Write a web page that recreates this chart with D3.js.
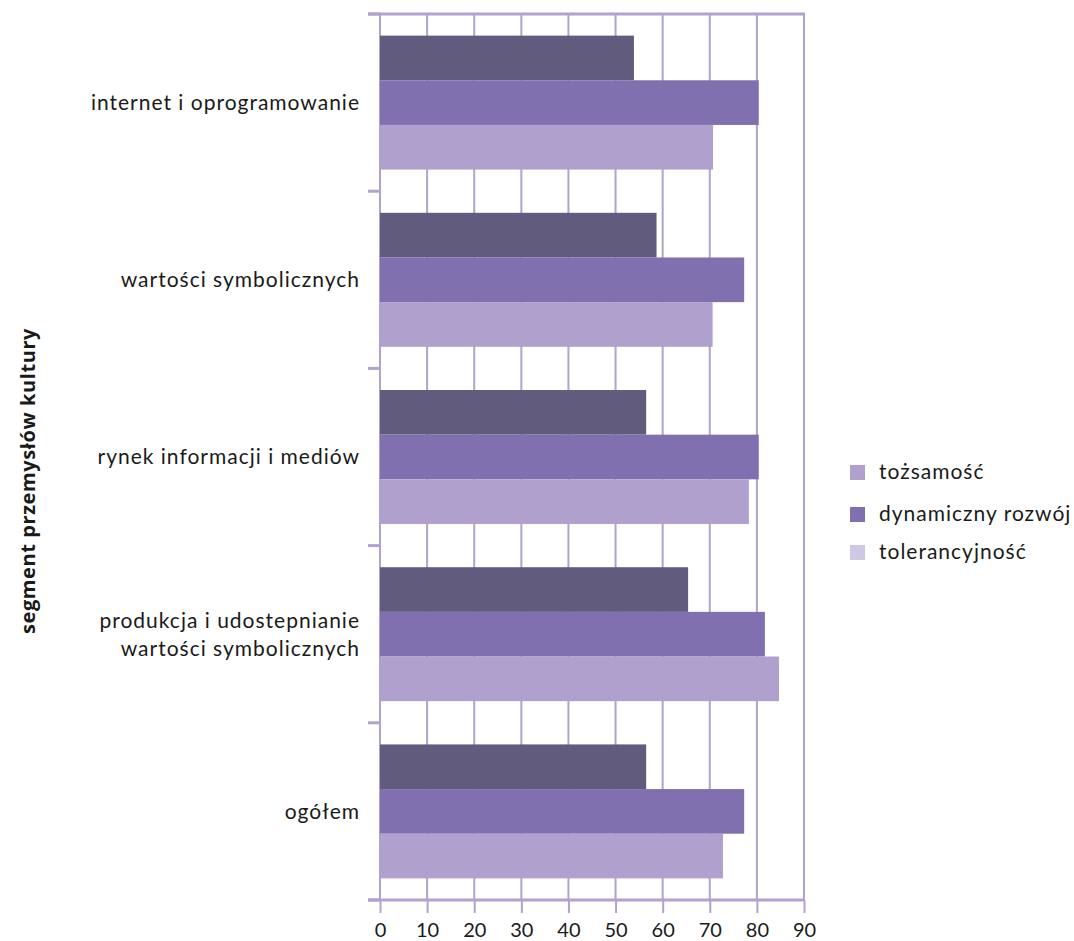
<!DOCTYPE html>
<html>
<head>
<meta charset="utf-8">
<script src="https://cdn.jsdelivr.net/npm/d3@7"></script>
<style>
  html, body { margin: 0; padding: 0; background: #fff; }
  svg text { font-family: Lato, "Open Sans", sans-serif; fill: #1a1a1a; }
</style>
</head>
<body>
<svg id="chart" width="1074" height="941"></svg>
<script>
// Segments of the culture industries (top to bottom)
const categories = [
  ["internet i oprogramowanie"],
  ["wartości symbolicznych"],
  ["rynek informacji i mediów"],
  ["produkcja i udostepnianie", "wartości symbolicznych"],
  ["ogółem"]
];
const categoryKeys = categories.map(c => c.join(" "));

// Series in bar order within each group (top to bottom)
const seriesKeys = ["tolerancyjność", "dynamiczny rozwój", "tożsamość"];
const tolerancyjnosc = [53.9, 58.7, 56.5, 65.4, 56.5];
const dynamicznyRozwoj = [80.4, 77.3, 80.4, 81.7, 77.3];
const tozsamosc = [70.7, 70.6, 78.3, 84.7, 72.8];
const seriesValues = [tolerancyjnosc, dynamicznyRozwoj, tozsamosc];

const barColors = ["#615b7e", "#8070b0", "#b0a0cd"];

// Legend entries
const legendLabels = ["tożsamość", "dynamiczny rozwój", "tolerancyjność"];
const legendColors = ["#b0a0cd", "#8070b0", "#d0c8e3"];

const xTicks = [0, 10, 20, 30, 40, 50, 60, 70, 80, 90];
const axisTitle = "segment przemysłów kultury";

const svg = d3.select("#chart");
const gridColor = "#b1a2cf";

const plotLeft = 380, plotRight = 804, plotTop = 14, plotBottom = 900;

const x = d3.scaleLinear().domain([0, 90]).range([plotLeft, plotRight]);
const y = d3.scaleBand().domain(categoryKeys).range([plotTop, plotBottom])
  .paddingInner(0.244).paddingOuter(0.122);
const ySub = d3.scaleBand().domain(seriesKeys).range([0, y.bandwidth()]);

// vertical gridlines
svg.append("g").selectAll("line").data(xTicks).join("line")
  .attr("x1", d => x(d)).attr("x2", d => x(d))
  .attr("y1", plotTop).attr("y2", plotBottom)
  .attr("stroke", gridColor).attr("stroke-width", 2);

// top frame line
svg.append("line")
  .attr("x1", plotLeft - 12).attr("x2", plotRight + 1)
  .attr("y1", plotTop).attr("y2", plotTop)
  .attr("stroke", gridColor).attr("stroke-width", 3);

// bars
const rows = categoryKeys.map((k, i) => ({ key: k, values: seriesValues.map((s, j) => ({ series: seriesKeys[j], value: s[i], color: barColors[j] })) }));
const groups = svg.append("g").selectAll("g").data(rows).join("g")
  .attr("transform", d => `translate(0,${y(d.key)})`);
groups.selectAll("rect").data(d => d.values).join("rect")
  .attr("x", x(0))
  .attr("y", d => ySub(d.series))
  .attr("width", d => x(d.value) - x(0))
  .attr("height", ySub.bandwidth())
  .attr("fill", d => d.color);

// left category boundary ticks
const step = y.step();
const boundaries = categoryKeys.map(k => y(k) - step * y.paddingInner() / 2).concat([plotBottom]);
svg.append("g").selectAll("line").data(boundaries).join("line")
  .attr("x1", plotLeft - 12).attr("x2", plotLeft)
  .attr("y1", d => d).attr("y2", d => d)
  .attr("stroke", gridColor).attr("stroke-width", 3);

// bottom axis
const xAxis = d3.axisBottom(x).tickValues(xTicks).tickSize(13).tickSizeOuter(0).tickFormat(d3.format("d"));
const gx = svg.append("g").attr("transform", `translate(0,${plotBottom})`).call(xAxis);
gx.select(".domain").remove();
gx.selectAll(".tick line").attr("stroke", gridColor).attr("stroke-width", 2);
gx.selectAll(".tick text").attr("font-size", 20).attr("dy", 0).attr("y", 37)
  .style("font-family", "Lato, sans-serif").attr("fill", "#1a1a1a");
svg.append("line")
  .attr("x1", plotLeft - 12).attr("x2", plotRight + 1)
  .attr("y1", plotBottom).attr("y2", plotBottom)
  .attr("stroke", gridColor).attr("stroke-width", 3);

// category labels
const labels = svg.append("g").selectAll("text").data(categories).join("text")
  .attr("text-anchor", "end")
  .attr("font-size", 21)
  .attr("letter-spacing", 1)
  .attr("transform", (d, i) => `translate(360,${y(categoryKeys[i]) + y.bandwidth() / 2})`);
labels.selectAll("tspan").data(d => d.map((t, j) => ({ t, j, n: d.length }))).join("tspan")
  .attr("x", 0)
  .attr("y", d => (d.j - (d.n - 1) / 2) * 28)
  .attr("dy", "0.35em")
  .text(d => d.t);

// axis title
svg.append("text")
  .attr("transform", `translate(28,481) rotate(-90)`)
  .attr("text-anchor", "middle")
  .attr("dy", "0.35em")
  .attr("font-size", 20)
  .attr("letter-spacing", 0.6)
  .attr("font-weight", "bold")
  .style("font-family", "'Open Sans', sans-serif")
  .text(axisTitle);

// legend
const legendY = [472, 514, 552];
const lg = svg.append("g").selectAll("g").data(legendLabels).join("g")
  .attr("transform", (d, i) => `translate(850,${legendY[i]})`);
lg.append("rect").attr("x", 0).attr("y", -7).attr("width", 15).attr("height", 15)
  .attr("fill", (d, i) => legendColors[i]);
lg.append("text").attr("x", 29).attr("dy", "0.35em").attr("font-size", 21)
  .attr("letter-spacing", 1).text(d => d);
</script>
</body>
</html>
